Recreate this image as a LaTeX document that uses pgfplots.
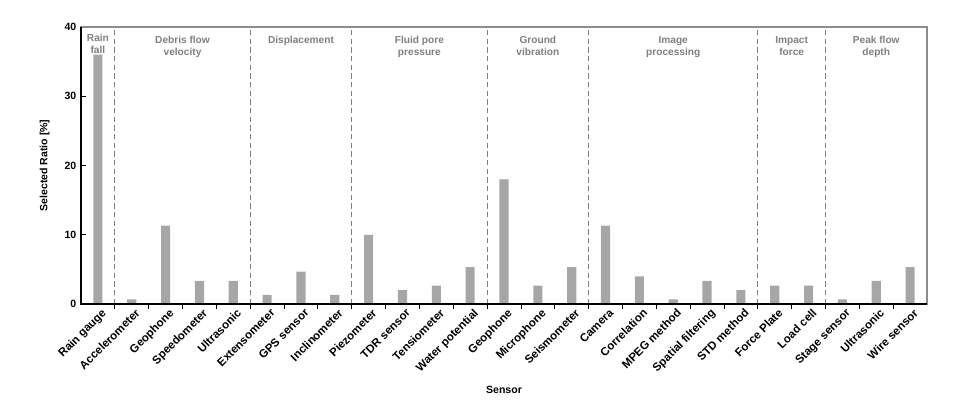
\documentclass[border=0pt]{standalone}
\usepackage{pgfplots}
\pgfplotsset{compat=1.18}
\usepackage{fontspec}
\setmainfont{Liberation Sans}
\definecolor{bargray}{HTML}{A6A6A6}
\definecolor{framegray}{HTML}{8C8C8C}
\definecolor{labgray}{HTML}{7F7F7F}
\begin{document}
\begin{tikzpicture}[x=0.75pt,y=0.75pt]
\begin{axis}[
  at={(0,0)}, anchor=south west,
  width=846*0.75pt, height=277*0.75pt,
  scale only axis,
  xmin=-0.5, xmax=24.5,
  ymin=0, ymax=40,
  ytick={0,10,20,30,40},
  xtick={0,...,24},
  xtick pos=bottom, ytick pos=left,
  xticklabels={Rain gauge,Accelerometer,Geophone,Speedometer,Ultrasonic,Extensometer,GPS sensor,Inclinometer,Piezometer,TDR sensor,Tensiometer,Water potential,Geophone,Microphone,Seismometer,Camera,Correlation,MPEG method,Spatial filtering,STD method,Force Plate,Load cell,Stage sensor,Ultrasonic,Wire sensor},
  major x tick style={draw=none},
  minor xtick={0.5,1.5,...,23.5},
  minor tick length=3.5pt,
  major tick length=3.5pt,
  tick style={black, line width=0.6pt},
  x tick label style={rotate=45, anchor=north east, font=\bfseries\fontsize{8.6}{10}\selectfont, inner sep=1pt, xshift=3pt},
  y tick label style={font=\bfseries\fontsize{7.9}{9}\selectfont},
  /pgf/number format/assume math mode=true,
  ylabel={\bfseries Selected Ratio [\%]},
  xlabel={\bfseries Sensor},
  label style={font=\bfseries\fontsize{7.9}{9}\selectfont},
  ylabel style={at={(rel axis cs:0,0.5)}, yshift=20pt},
  xlabel style={at={(rel axis cs:0.5,0)}, yshift=-58pt},
  axis line style={framegray, line width=1.1pt},
  ybar, bar width=0.27,
  clip=false,
]
\addplot[fill=bargray, draw=none] coordinates {
(0,36) (1,0.67) (2,11.33) (3,3.33) (4,3.33) (5,1.33) (6,4.67) (7,1.33)
(8,10) (9,2) (10,2.67) (11,5.33) (12,18) (13,2.67) (14,5.33)
(15,11.33) (16,4) (17,0.67) (18,3.33) (19,2) (20,2.67) (21,2.67)
(22,0.67) (23,3.33) (24,5.33)};
\foreach \b in {0.5,4.5,7.5,11.5,14.5,19.5,21.5} {
  \edef\tmp{\noexpand\draw[labgray, dashed, dash pattern=on 4pt off 2.5pt, line width=0.8pt] (axis cs:\b,0) -- (axis cs:\b,40);}
  \tmp
}
\draw[black, line width=1.2pt] (rel axis cs:0,1) -- (rel axis cs:0,0) -- (rel axis cs:1,0);
\tikzset{grp/.style={labgray, font=\bfseries\fontsize{7.6}{9}\selectfont, align=center, anchor=north}}
\node[grp] at (axis cs:0,39.6) {Rain\\fall};
\node[grp] at (axis cs:2.5,39.3) {Debris flow\\velocity};
\node[grp] at (axis cs:6,39.3) {Displacement};
\node[grp] at (axis cs:9.5,39.3) {Fluid pore\\pressure};
\node[grp] at (axis cs:13,39.3) {Ground\\vibration};
\node[grp] at (axis cs:17,39.3) {Image\\processing};
\node[grp] at (axis cs:20.5,39.3) {Impact\\force};
\node[grp] at (axis cs:23,39.3) {Peak flow\\depth};
\end{axis}
\pgfresetboundingbox
\path[use as bounding box] (-81,-106) rectangle (874,304);
\end{tikzpicture}
\end{document}
